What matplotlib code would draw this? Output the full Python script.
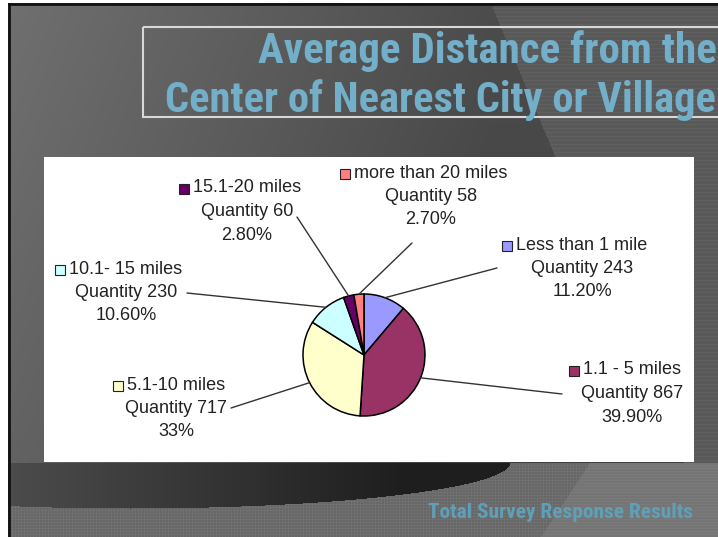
import numpy as np
import matplotlib
matplotlib.use("Agg")
import matplotlib.pyplot as plt
from matplotlib import font_manager as fm
from matplotlib.patches import Rectangle

# data
categories = ["Less than 1 mile", "1.1 - 5 miles", "5.1-10 miles",
              "10.1- 15 miles", "15.1-20 miles", "more than 20 miles"]
quantities = [243, 867, 717, 230, 60, 58]
percent_labels = ["11.20%", "39.90%", "33%", "10.60%", "2.80%", "2.70%"]
colors = ["#9999ff", "#993366", "#ffffcc", "#ccffff", "#660066", "#ff8080"]

title_lines = ["Average Distance from the", "Center of Nearest City or Village"]
footer = "Total Survey Response Results"

# label block placement (px, top-left origin): centre x, first line y, leader end
label_pos = [(582, 245, 497, 268), (632, 370, 562, 394), (176, 385, 231, 408),
             (126, 269, 187, 293), (247, 188, 297, 217), (431, 173, 412, 243)]

W, H = 718, 537


def pick(names):
    avail = {f.name for f in fm.fontManager.ttflist}
    for n in names:
        if n in avail:
            return n
    return "DejaVu Sans"


title_font = pick(["Liberation Sans Narrow", "Roboto Condensed", "Liberation Sans"])
label_font = pick(["Liberation Sans", "Arial", "DejaVu Sans"])

fig = plt.figure(figsize=(W / 100, H / 100), dpi=100)
fig.patch.set_facecolor("white")
bg = fig.add_axes([0, 0, 1, 1])
bg.set_xlim(0, W)
bg.set_ylim(H, 0)
bg.axis("off")

# slide background
yy, xx = np.mgrid[0:H, 0:W].astype(float)
v = 0.44 - 0.14 * np.clip(xx / 490, 0, 1) - 0.06 * yy / H
diag = 493 + 0.42 * (yy - 9)
v = np.where(xx > diag, 0.35 + 0.03 * (yy % 4 == 0), v)
band = 462 + 46 * np.sqrt(np.clip(1 - ((xx - 130) / 380) ** 2, 0, 1))
dark = 0.30 - 0.18 * np.clip(xx / 400, 0, 1)
below = yy > 462
tex = 0.40 + 0.04 * ((xx % 3 == 0) | (yy % 3 == 0))
v = np.where(below & (yy <= band), dark, v)
v = np.where(below & (yy > band), tex, v)
diag2 = 590 - (yy - 462) * 50 / 75
v = np.where(below & (xx > diag2), 0.46 + 0.02 * (yy % 3 == 0), v)
v = np.where((xx < 8) | (yy < 3), 1.0, v)
img = np.dstack([v, v, v])
bg.imshow(img, extent=(0, W, H, 0), interpolation="nearest", zorder=0)
bg.plot([9, 9], [4, H], color="#111111", lw=2, zorder=1)
bg.plot([9, W], [4, 4], color="#111111", lw=2, zorder=1)

# title box and white chart area
bg.add_patch(Rectangle((143, 27), 600, 90, fill=False, ec="#d8d8d8", lw=1.5, zorder=2))
bg.add_patch(Rectangle((44, 157), 650, 305, fc="white", ec="none", zorder=2))

fig.canvas.draw()
renderer = fig.canvas.get_renderer()


def fit_text(s, x, y, width, **kw):
    t = bg.text(x, y, s, ha="left", va="baseline", fontsize=30, zorder=3, **kw)
    w = t.get_window_extent(renderer).width
    t.set_fontsize(30 * width / w)
    return t


fit_text(title_lines[0], 258, 63, 459, family=title_font, color="#73afc8",
         fontweight="bold")
fit_text(title_lines[1], 165, 112, 552, family=title_font, color="#73afc8",
         fontweight="bold")
fit_text(footer, 428, 518, 265, family=title_font, color="#5fa0b9",
         fontweight="bold")

# pie
cx, cy, r = 364, 355, 61
ax = fig.add_axes([(cx - r) / W, (H - cy - r) / H, 2 * r / W, 2 * r / H])
wedges, _ = ax.pie(quantities, colors=colors, startangle=90, counterclock=False,
                   wedgeprops=dict(edgecolor="black", linewidth=1.1))
for w in wedges:
    w.set_clip_on(False)
ax.set_xlim(-1, 1)
ax.set_ylim(-1, 1)
ax.set_aspect("equal")
ax.axis("off")

for i, w in enumerate(wedges):
    mid = np.deg2rad((w.theta1 + w.theta2) / 2)
    lx, ly, ex, ey = label_pos[i]
    ax.annotate("", xy=(np.cos(mid), np.sin(mid)), xycoords="data",
                xytext=(ex, H - ey), textcoords="figure pixels",
                arrowprops=dict(arrowstyle="-", color="#333333", lw=1,
                                shrinkA=0, shrinkB=0),
                annotation_clip=False)
    lines = [categories[i], "Quantity %d" % quantities[i], percent_labels[i]]
    for k, s in enumerate(lines):
        t = bg.text(lx, ly + k * 23.5, s, ha="center", va="center", fontsize=13,
                    family=label_font, color="#222222", zorder=4)
        if k == 0:
            ext = t.get_window_extent(renderer)
            left = ext.x0 - 9
            bg.plot(left, ly + 1, marker="s", ms=6.5, mfc=colors[i], mec="#222222",
                    mew=0.8, zorder=4)

fig.savefig("out.png", dpi=100)
